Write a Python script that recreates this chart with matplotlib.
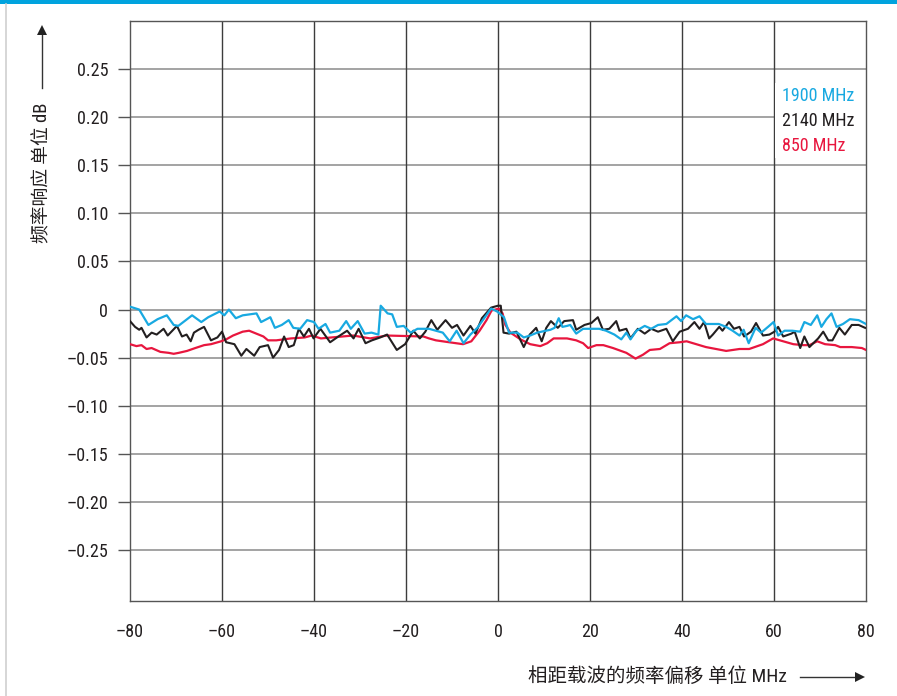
import matplotlib
matplotlib.use("Agg")
import matplotlib.pyplot as plt
from matplotlib.patches import Rectangle
from matplotlib.lines import Line2D

# ---------------- data ----------------
blue_x = [-80, -78, -76, -74, -72, -70.5, -69.5, -66.5, -64.5, -63, -60.5, -59.5, -58.5, -57,
          -55.5, -52.5, -51.5, -49.5, -48.5, -47, -45.5, -44.5, -43, -41.5, -40, -39, -37.5,
          -36.5, -34.5, -33, -32, -30.5, -29, -27.5, -26, -25.5, -24, -23, -22, -20.5, -19,
          -17.5, -16, -15, -13.5, -12, -10.5, -9, -7.5, -6, -4.5, -3, -1.5, -0.2, 1.3, 2.4,
          4.2, 5.6, 7, 8.5, 11.4, 12.3, 13.2, 14, 15, 15.7, 17, 18.5, 20.3, 22, 23.5, 25.3,
          26.8, 27.9, 28.8, 30.1, 31.9, 33.3, 34.8, 36.6, 38.8, 39.8, 40.9, 42.4, 43.8, 45.2,
          46.7, 48, 49.6, 51, 52.5, 53.4, 54.5, 56, 57.2, 58.7, 59.9, 60.9, 62.3, 64, 65.7,
          66.6, 68, 69.4, 70.3, 71.4, 72.5, 73.6, 75, 76.5, 78.4, 80]
blue_y = [0.003, 0.000, -0.016, -0.010, -0.006, -0.016, -0.017, -0.006, -0.013, -0.008, -0.002,
          -0.006, 0.000, -0.009, -0.006, -0.004, -0.013, -0.008, -0.019, -0.016, -0.011, -0.019,
          -0.020, -0.011, -0.013, -0.020, -0.015, -0.024, -0.022, -0.012, -0.020, -0.012, -0.025,
          -0.024, -0.026, 0.004, -0.004, -0.005, -0.018, -0.017, -0.024, -0.020, -0.020, -0.020,
          -0.022, -0.024, -0.033, -0.022, -0.035, -0.026, -0.019, -0.009, 0.001, -0.002, -0.008,
          -0.024, -0.024, -0.029, -0.027, -0.024, -0.021, -0.019, -0.009, -0.018, -0.017, -0.016,
          -0.025, -0.020, -0.020, -0.020, -0.022, -0.026, -0.031, -0.024, -0.031, -0.022, -0.017,
          -0.020, -0.016, -0.015, -0.007, -0.012, -0.006, -0.010, -0.007, -0.015, -0.015, -0.015,
          -0.018, -0.022, -0.027, -0.021, -0.035, -0.019, -0.024, -0.018, -0.013, -0.027, -0.022,
          -0.022, -0.023, -0.013, -0.016, -0.006, -0.018, -0.010, -0.004, -0.018, -0.015, -0.010,
          -0.011, -0.015]

black_x = [-80, -78.9, -78, -77.5, -76.4, -75.3, -74.2, -72.7, -71.8, -69.8, -68.7, -67.7, -66.8,
           -66.1, -65.1, -63.9, -62.4, -61, -60, -59.1, -57.3, -55.8, -54.7, -53, -51.8, -50,
           -48.9, -47.6, -46.5, -45.5, -44.4, -43.3, -42.2, -41.1, -40.1, -38.6, -36.5, -34.7,
           -32.8, -31.4, -30.3, -28.8, -27.4, -25.6, -24.1, -22, -20.2, -18.4, -17, -15.8, -14.5,
           -13.2, -11.4, -10, -8.9, -7.5, -6, -4.9, -3.5, -1.5, 0, 0.6, 1.2, 2.4, 4, 5.6, 6.9,
           8.3, 9.5, 10.5, 11.5, 13, 14.4, 16.3, 17, 18.8, 20.3, 21.7, 22.8, 24.2, 25.7, 26.4,
           27.9, 28.8, 30.4, 31.9, 33.3, 34.8, 36.6, 38, 39.5, 41.3, 42.7, 43.8, 44.8, 45.9,
           46.7, 48.1, 48.8, 50.2, 51.3, 52.5, 53.5, 55, 56.1, 57.6, 59, 60.1, 60.9, 62, 63.8,
           64.5, 65.7, 66.6, 67.7, 69.6, 70.7, 71.8, 72.7, 74.2, 75.4, 76.9, 78.4, 79.8]
black_y = [-0.012, -0.018, -0.021, -0.019, -0.029, -0.024, -0.026, -0.020, -0.027, -0.017, -0.028,
           -0.026, -0.033, -0.024, -0.021, -0.018, -0.032, -0.029, -0.023, -0.034, -0.036, -0.048,
           -0.041, -0.048, -0.039, -0.037, -0.050, -0.042, -0.028, -0.039, -0.037, -0.020, -0.028,
           -0.020, -0.030, -0.020, -0.034, -0.028, -0.022, -0.030, -0.020, -0.035, -0.032, -0.029,
           -0.026, -0.042, -0.036, -0.022, -0.030, -0.023, -0.011, -0.021, -0.011, -0.019, -0.016,
           -0.027, -0.017, -0.025, -0.009, 0.002, 0.004, 0.004, -0.024, -0.025, -0.023, -0.039,
           -0.026, -0.019, -0.033, -0.019, -0.012, -0.019, -0.012, -0.011, -0.021, -0.016, -0.014,
           -0.008, -0.021, -0.020, -0.012, -0.022, -0.020, -0.030, -0.020, -0.025, -0.020, -0.023,
           -0.020, -0.033, -0.023, -0.020, -0.013, -0.020, -0.013, -0.030, -0.026, -0.018, -0.022,
           -0.013, -0.020, -0.018, -0.028, -0.023, -0.014, -0.027, -0.026, -0.023, -0.018, -0.028,
           -0.025, -0.023, -0.040, -0.028, -0.039, -0.030, -0.023, -0.032, -0.032, -0.019, -0.026,
           -0.016, -0.016, -0.019]

red_x = [-80, -78.6, -77.5, -76.4, -75.3, -73.4, -71.6, -70.5, -69.4, -67.6, -65.8, -63.9, -62.4,
         -60.2, -59.1, -57.6, -55.5, -54.1, -51, -50, -48.2, -45, -42, -40.5, -38.5, -31.5,
         -27.8, -24.2, -16.2, -15, -13.5, -10.6, -7.6, -5.8, -4.0, -2.5, -1.4, 0.2, 1.0, 1.6,
         2.7, 4.9, 7.0, 9.2, 10.7, 12.1, 15, 17, 18.5, 19.6, 21.4, 22.9, 25, 27.9, 29.9, 31.5,
         33, 35.2, 37.3, 39.5, 41, 43.1, 45.2, 47.4, 49.6, 52.5, 54.6, 55.8, 57.6, 59.8, 62,
         64.2, 66.3, 67.7, 69.4, 71.1, 73.3, 74.4, 76.9, 79.1, 80]
red_y = [-0.036, -0.038, -0.037, -0.041, -0.040, -0.044, -0.045, -0.046, -0.045, -0.043, -0.040,
         -0.037, -0.036, -0.033, -0.031, -0.027, -0.023, -0.022, -0.028, -0.032, -0.032, -0.030,
         -0.029, -0.027, -0.030, -0.027, -0.030, -0.027, -0.028, -0.030, -0.032, -0.034, -0.036,
         -0.033, -0.022, -0.011, -0.001, 0.001, -0.004, -0.016, -0.024, -0.031, -0.036, -0.038,
         -0.035, -0.030, -0.030, -0.032, -0.035, -0.040, -0.037, -0.037, -0.040, -0.045, -0.051,
         -0.047, -0.042, -0.041, -0.035, -0.034, -0.033, -0.036, -0.039, -0.041, -0.043, -0.041,
         -0.041, -0.039, -0.036, -0.030, -0.033, -0.036, -0.037, -0.037, -0.033, -0.036, -0.037,
         -0.039, -0.039, -0.040, -0.042]

series_labels = ["1900 MHz", "2140 MHz", "850 MHz"]
series_colors = ["#18a9e1", "#231f20", "#e8163e"]

x_ticks = [-80, -60, -40, -20, 0, 20, 40, 60, 80]
y_ticks = [-0.25, -0.20, -0.15, -0.10, -0.05, 0, 0.05, 0.10, 0.15, 0.20, 0.25]
y_tick_labels = ["\u20130.25", "\u20130.20", "\u20130.15", "\u20130.10", "\u20130.05", "0",
                 "0.05", "0.10", "0.15", "0.20", "0.25"]
x_tick_labels = ["\u201380", "\u201360", "\u201340", "\u201320", "0", "20", "40", "60", "80"]
y_label = "频率响应 单位 dB"
x_label = "相距载波的频率偏移 单位 MHz"

# ---------------- figure ----------------
FONT = ["Roboto Condensed", "Noto Sans CJK SC", "DejaVu Sans"]
plt.rcParams["font.family"] = FONT

W, H = 897, 696
fig = plt.figure(figsize=(W / 100, H / 100), dpi=100)
ax = fig.add_axes([130 / W, 1 - 601 / H, (866 - 130) / W, (601 - 21) / H])

ax.set_xlim(-80, 80)
ax.set_ylim(-0.303, 0.30)

# grid
for yv in y_ticks:
    ax.axhline(yv, color="#8a8a8a", lw=1.1, zorder=1)
for xv in x_ticks[1:-1]:
    ax.axvline(xv, color="#3c3c3c", lw=1.0, zorder=1)

# legend background (white block hides gridline)
ax.add_patch(Rectangle((60.2, 0.158), 19.8, 0.078, facecolor="white", edgecolor="none", zorder=2))

# data
ax.plot(red_x, red_y, color=series_colors[2], lw=1.6, zorder=3)
ax.plot(black_x, black_y, color=series_colors[1], lw=1.5, zorder=4)
ax.plot(blue_x, blue_y, color=series_colors[0], lw=1.6, zorder=5)

# legend texts
for i, (lab, col) in enumerate(zip(series_labels, series_colors)):
    ax.text(61.7, 0.2225 - i * 0.0262, lab, color=col, fontsize=13, va="center", ha="left",
            zorder=6)

# spines
for s in ax.spines.values():
    s.set_color("#555555")
    s.set_linewidth(1.0)

ax.set_yticks(y_ticks)
ax.set_yticklabels(y_tick_labels)
ax.set_xticks(x_ticks)
ax.set_xticklabels(x_tick_labels)
ax.tick_params(axis="y", length=8.6, width=1.0, color="#555555", pad=7, labelsize=13,
               labelcolor="#231f20")
ax.tick_params(axis="x", length=0, pad=16, labelsize=13, labelcolor="#231f20")

# axis labels with arrows
fig.text(42 / W, 1 - 173 / H, y_label, rotation=90, fontsize=13.5, ha="center", va="center",
         color="#231f20")
fig.add_artist(Line2D([42 / W, 42 / W], [1 - 88 / H, 1 - 32 / H], color="#333333", lw=1.0))
fig.add_artist(Line2D([42 / W], [1 - 30 / H], marker="^", markersize=7, color="#222222",
                      markeredgewidth=0))
fig.text(787 / W, 1 - 677 / H, x_label, fontsize=14, ha="right", va="center", color="#231f20")
fig.add_artist(Line2D([800 / W, 858 / W], [1 - 677 / H, 1 - 677 / H], color="#333333", lw=1.0))
fig.add_artist(Line2D([860 / W], [1 - 677 / H], marker=">", markersize=7, color="#222222",
                      markeredgewidth=0))

# page decoration: top cyan bar and left grey rule
fig.add_artist(Rectangle((0, 1 - 4 / H), 1, 4 / H, transform=fig.transFigure,
                         facecolor="#00a3de", edgecolor="none"))
fig.add_artist(Line2D([6 / W, 6 / W], [0, 1 - 4 / H], color="#cfcfcf", lw=1.2))

fig.savefig("out.png", dpi=100)
